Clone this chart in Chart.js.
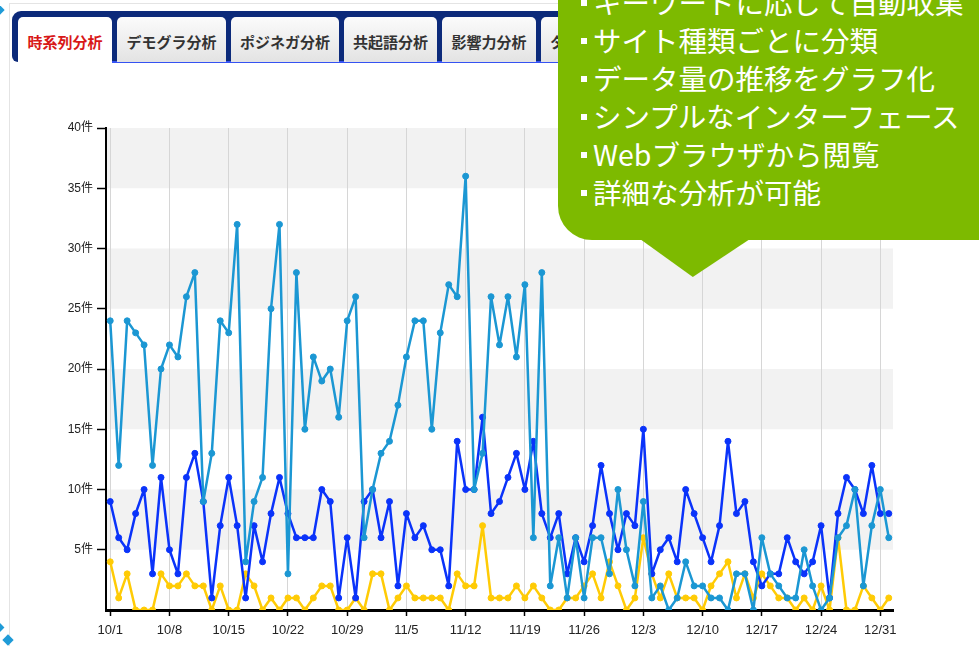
<!DOCTYPE html>
<html lang="ja">
<head>
<meta charset="utf-8">
<title>時系列分析</title>
<script src="https://cdn.jsdelivr.net/npm/chart.js@4.4.1/dist/chart.umd.min.js"></script>
<style>
  html, body { margin: 0; padding: 0; background: #fff; overflow: hidden; }
  body { width: 979px; height: 646px; position: relative; font-family: "Noto Sans CJK JP", "Liberation Sans", sans-serif; }
  .panel { position: absolute; left: 9px; top: 3px; width: 1000px; height: 700px; border-left: 1px solid #e4e4e4; border-top: 1px solid #e4e4e4; }
  .tabbar { position: absolute; left: 12px; top: 11px; width: 1000px; height: 51px; background: #0c2a7a; border-radius: 9px 0 0 6px; }
  .tabline { position: absolute; left: 100px; top: 61px; width: 900px; height: 2px; background: #3552f2; }
  .tab { position: absolute; top: 17px; height: 45px; line-height: 50px; text-align: center; font-size: 15px; font-weight: bold; color: #333;
         background: linear-gradient(#fbfbfb, #e3e3e3); border-radius: 5px 5px 0 0; white-space: nowrap; overflow: hidden; }
  .tab.active { background: #fff; color: #d81818; height: 47px; }
  .tab.left { text-align: left; padding-left: 9px; box-sizing: border-box; }
  .deco { position: absolute; background: #1f9bd7; transform: rotate(45deg); }
  .callout { position: absolute; left: 558px; top: -20px; width: 440px; height: 260px; background: #7dba00; border-bottom-left-radius: 34px; }
  .pointer { position: absolute; left: 640px; top: 239px; width: 110px; height: 38px; background: #7dba00; clip-path: polygon(0 0, 100% 0, 48% 100%); }
  .points { position: absolute; left: 578px; top: -17px; color: #fff; font-size: 28.5px; line-height: 38px; white-space: nowrap; }
  .points div { position: relative; padding-left: 15px; }
  .points div::before { content: ""; position: absolute; left: 3px; top: 17px; width: 6px; height: 6px; background: #fff; }
  #chart { position: absolute; left: 40px; top: 110px; }
</style>
</head>
<body>
<div class="panel"></div>
<div class="deco" style="left:-5px; top:6px; width:8px; height:8px;"></div>
<div class="deco" style="left:-4px; top:624px; width:7px; height:7px;"></div>
<div class="deco" style="left:4px; top:636px; width:8px; height:8px;"></div>

<div class="tabbar"></div>
<div class="tabline"></div>
<div class="tab active" style="left:18px; width:94px;">時系列分析</div>
<div class="tab" style="left:117px; width:109px;">デモグラ分析</div>
<div class="tab" style="left:231px; width:108px;">ポジネガ分析</div>
<div class="tab" style="left:344px; width:93px;">共起語分析</div>
<div class="tab" style="left:442px; width:94px;">影響力分析</div>
<div class="tab left" style="left:541px; width:100px;">ターゲット分析</div>

<canvas id="chart" width="870" height="536"></canvas>

<div class="callout"></div>
<div class="pointer"></div>
<div class="points">
  <div>キーワードに応じて自動収集</div>
  <div>サイト種類ごとに分類</div>
  <div>データ量の推移をグラフ化</div>
  <div>シンプルなインターフェース</div>
  <div>Webブラウザから閲覧</div>
  <div>詳細な分析が可能</div>
</div>

<script>
const categories = [
  '10/1','10/2','10/3','10/4','10/5','10/6','10/7','10/8','10/9','10/10',
  '10/11','10/12','10/13','10/14','10/15','10/16','10/17','10/18','10/19','10/20',
  '10/21','10/22','10/23','10/24','10/25','10/26','10/27','10/28','10/29','10/30','10/31',
  '11/1','11/2','11/3','11/4','11/5','11/6','11/7','11/8','11/9','11/10',
  '11/11','11/12','11/13','11/14','11/15','11/16','11/17','11/18','11/19','11/20',
  '11/21','11/22','11/23','11/24','11/25','11/26','11/27','11/28','11/29','11/30',
  '12/1','12/2','12/3','12/4','12/5','12/6','12/7','12/8','12/9','12/10',
  '12/11','12/12','12/13','12/14','12/15','12/16','12/17','12/18','12/19','12/20',
  '12/21','12/22','12/23','12/24','12/25','12/26','12/27','12/28','12/29','12/30','12/31',
  '1/1'
];

const tickLabels = ['10/1','10/8','10/15','10/22','10/29','11/5','11/12','11/19','11/26','12/3','12/10','12/17','12/24','12/31'];

const cyanSeries = [
  24,12,24,23,22,12,20,22,21,26,
  28,9,13,24,23,32,4,9,11,25,
  32,3,28,15,21,19,20,16,24,26,
  6,10,13,14,17,21,24,24,15,23,
  27,26,36,10,13,26,22,26,21,27,
  6,28,2,6,1,6,1,6,6,3,
  10,5,2,9,1,2,0,1,4,2,
  2,1,1,0,3,3,0,6,3,2,
  1,1,5,2,0,1,6,7,10,2,
  7,10,6
];

const blueSeries = [
  9,6,5,8,10,3,11,5,3,11,
  13,9,1,7,11,7,1,7,4,8,
  11,8,6,6,6,10,9,1,6,1,
  9,10,6,9,2,8,6,7,5,5,
  2,14,10,10,16,8,9,11,13,10,
  14,8,6,8,3,6,4,7,12,8,
  5,8,7,15,3,5,6,4,10,8,
  6,4,7,14,8,9,4,2,3,3,
  6,4,3,4,7,1,8,11,10,8,
  12,8,8
];

const yellowSeries = [
  4,1,3,0,0,0,3,2,2,3,
  2,2,0,2,0,0,3,2,0,1,
  0,1,1,0,1,2,2,0,0,1,
  0,3,3,0,1,2,1,1,1,1,
  0,3,2,2,7,1,1,1,2,1,
  2,1,0,0,1,1,2,3,1,4,
  2,0,1,6,3,1,3,1,1,1,
  0,2,3,4,1,3,1,3,2,1,
  1,0,1,0,2,0,6,0,0,2,
  1,0,1
];

const bandStarts = [5, 15, 25, 35];

// gray bands behind the grid
const bandPlugin = {
  id: 'bands',
  beforeDraw(chart) {
    const { ctx, chartArea, scales } = chart;
    ctx.save();
    ctx.fillStyle = '#f2f2f2';
    bandStarts.forEach(v => {
      const y1 = scales.y.getPixelForValue(v + 5);
      const y2 = scales.y.getPixelForValue(v);
      ctx.fillRect(chartArea.left, y1, chartArea.right - chartArea.left, y2 - y1);
    });
    ctx.restore();
  }
};

function line(data, color) {
  return {
    data: data,
    borderColor: color,
    backgroundColor: color,
    pointBackgroundColor: color,
    pointBorderColor: color,
    borderWidth: 2.5,
    borderJoinStyle: 'round',
    borderCapStyle: 'round',
    pointRadius: 3,
    pointBorderWidth: 1,
    tension: 0,
    fill: false
  };
}

new Chart(document.getElementById('chart'), {
  type: 'line',
  data: {
    labels: categories,
    datasets: [
      line(cyanSeries, '#1b97d3'),
      line(blueSeries, '#0a33fa'),
      line(yellowSeries, '#ffcb05')
    ]
  },
  options: {
    responsive: false,
    animation: false,
    layout: { padding: { top: 18, right: 17, bottom: 0, left: 0 } },
    plugins: { legend: { display: false }, tooltip: { enabled: false } },
    scales: {
      x: {
        type: 'category',
        offset: true,
        afterFit(scale) { scale.height = 36; },
        grid: { offset: false, color: '#d6d6d6', lineWidth: 1, tickColor: '#000', tickLength: 6, tickWidth: 1.5 },
        border: { color: '#000', width: 3 },
        ticks: {
          autoSkip: false,
          maxRotation: 0,
          padding: 7,
          color: '#222',
          font: { family: 'Liberation Sans, Arial, sans-serif', size: 13 },
          callback(value, index) {
            const lab = categories[index];
            return tickLabels.includes(lab) ? lab : null;
          }
        }
      },
      y: {
        min: 0,
        max: 40,
        afterFit(scale) { scale.width = 66; },
        grid: { drawOnChartArea: false, drawTicks: true, tickLength: 9, tickColor: '#000', tickWidth: 1.5 },
        border: { color: '#000', width: 2 },
        ticks: {
          stepSize: 5,
          padding: 4,
          color: '#222',
          font: { family: 'Liberation Sans, Arial, "Noto Sans CJK JP", sans-serif', size: 12 },
          callback(value) { return value === 0 ? null : value + '件'; }
        }
      }
    }
  },
  plugins: [bandPlugin]
});
</script>
</body>
</html>
